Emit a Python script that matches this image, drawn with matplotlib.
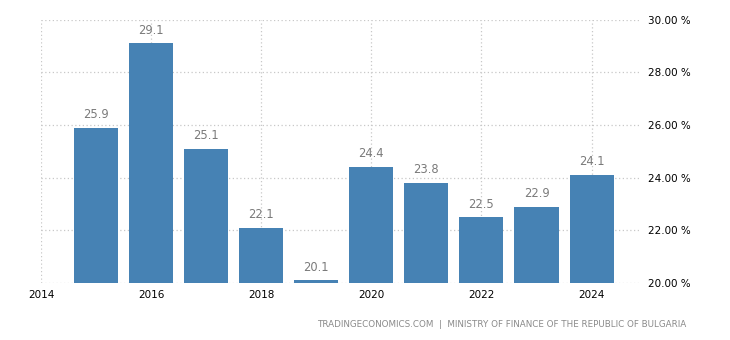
import matplotlib
matplotlib.use("Agg")
import matplotlib.pyplot as plt

years = [2015, 2016, 2017, 2018, 2019, 2020, 2021, 2022, 2023, 2024]
values = [25.9, 29.1, 25.1, 22.1, 20.1, 24.4, 23.8, 22.5, 22.9, 24.1]
xticks = [2014, 2016, 2018, 2020, 2022, 2024]
yticks = [20, 22, 24, 26, 28, 30]
source = "TRADINGECONOMICS.COM  |  MINISTRY OF FINANCE OF THE REPUBLIC OF BULGARIA"

fig = plt.figure(figsize=(7.3, 3.4), dpi=100)
ax = fig.add_axes([0.0562, 0.1676, 0.8205, 0.775])

bars = ax.bar(years, [v - 20 for v in values], bottom=20, width=0.8,
              color="#4682b4", zorder=2)
for yr, v in zip(years, values):
    ax.text(yr, v + 0.25, f"{v:.1f}", ha="center", va="bottom",
            fontsize=8.3, color="#7a7a7a")

ax.set_xlim(2014, 2024.88)
ax.set_ylim(20, 30)
ax.set_xticks(xticks)
ax.set_xticklabels([str(x) for x in xticks])
ax.set_yticks(yticks)
ax.set_yticklabels([f"{y:.2f} %" for y in yticks])
ax.yaxis.tick_right()
ax.tick_params(axis="both", length=0, labelsize=7.5, colors="black")
ax.tick_params(axis="y", pad=6)
ax.tick_params(axis="x", pad=5)
ax.grid(True, linestyle=(0, (1, 2)), color="#c8c8c8", linewidth=0.9, zorder=0)
for s in ax.spines.values():
    s.set_visible(False)

fig.text(0.94, 0.045, source, ha="right", va="center", fontsize=6.3,
         color="#8a8a8a")

fig.savefig("out.png", dpi=100)
